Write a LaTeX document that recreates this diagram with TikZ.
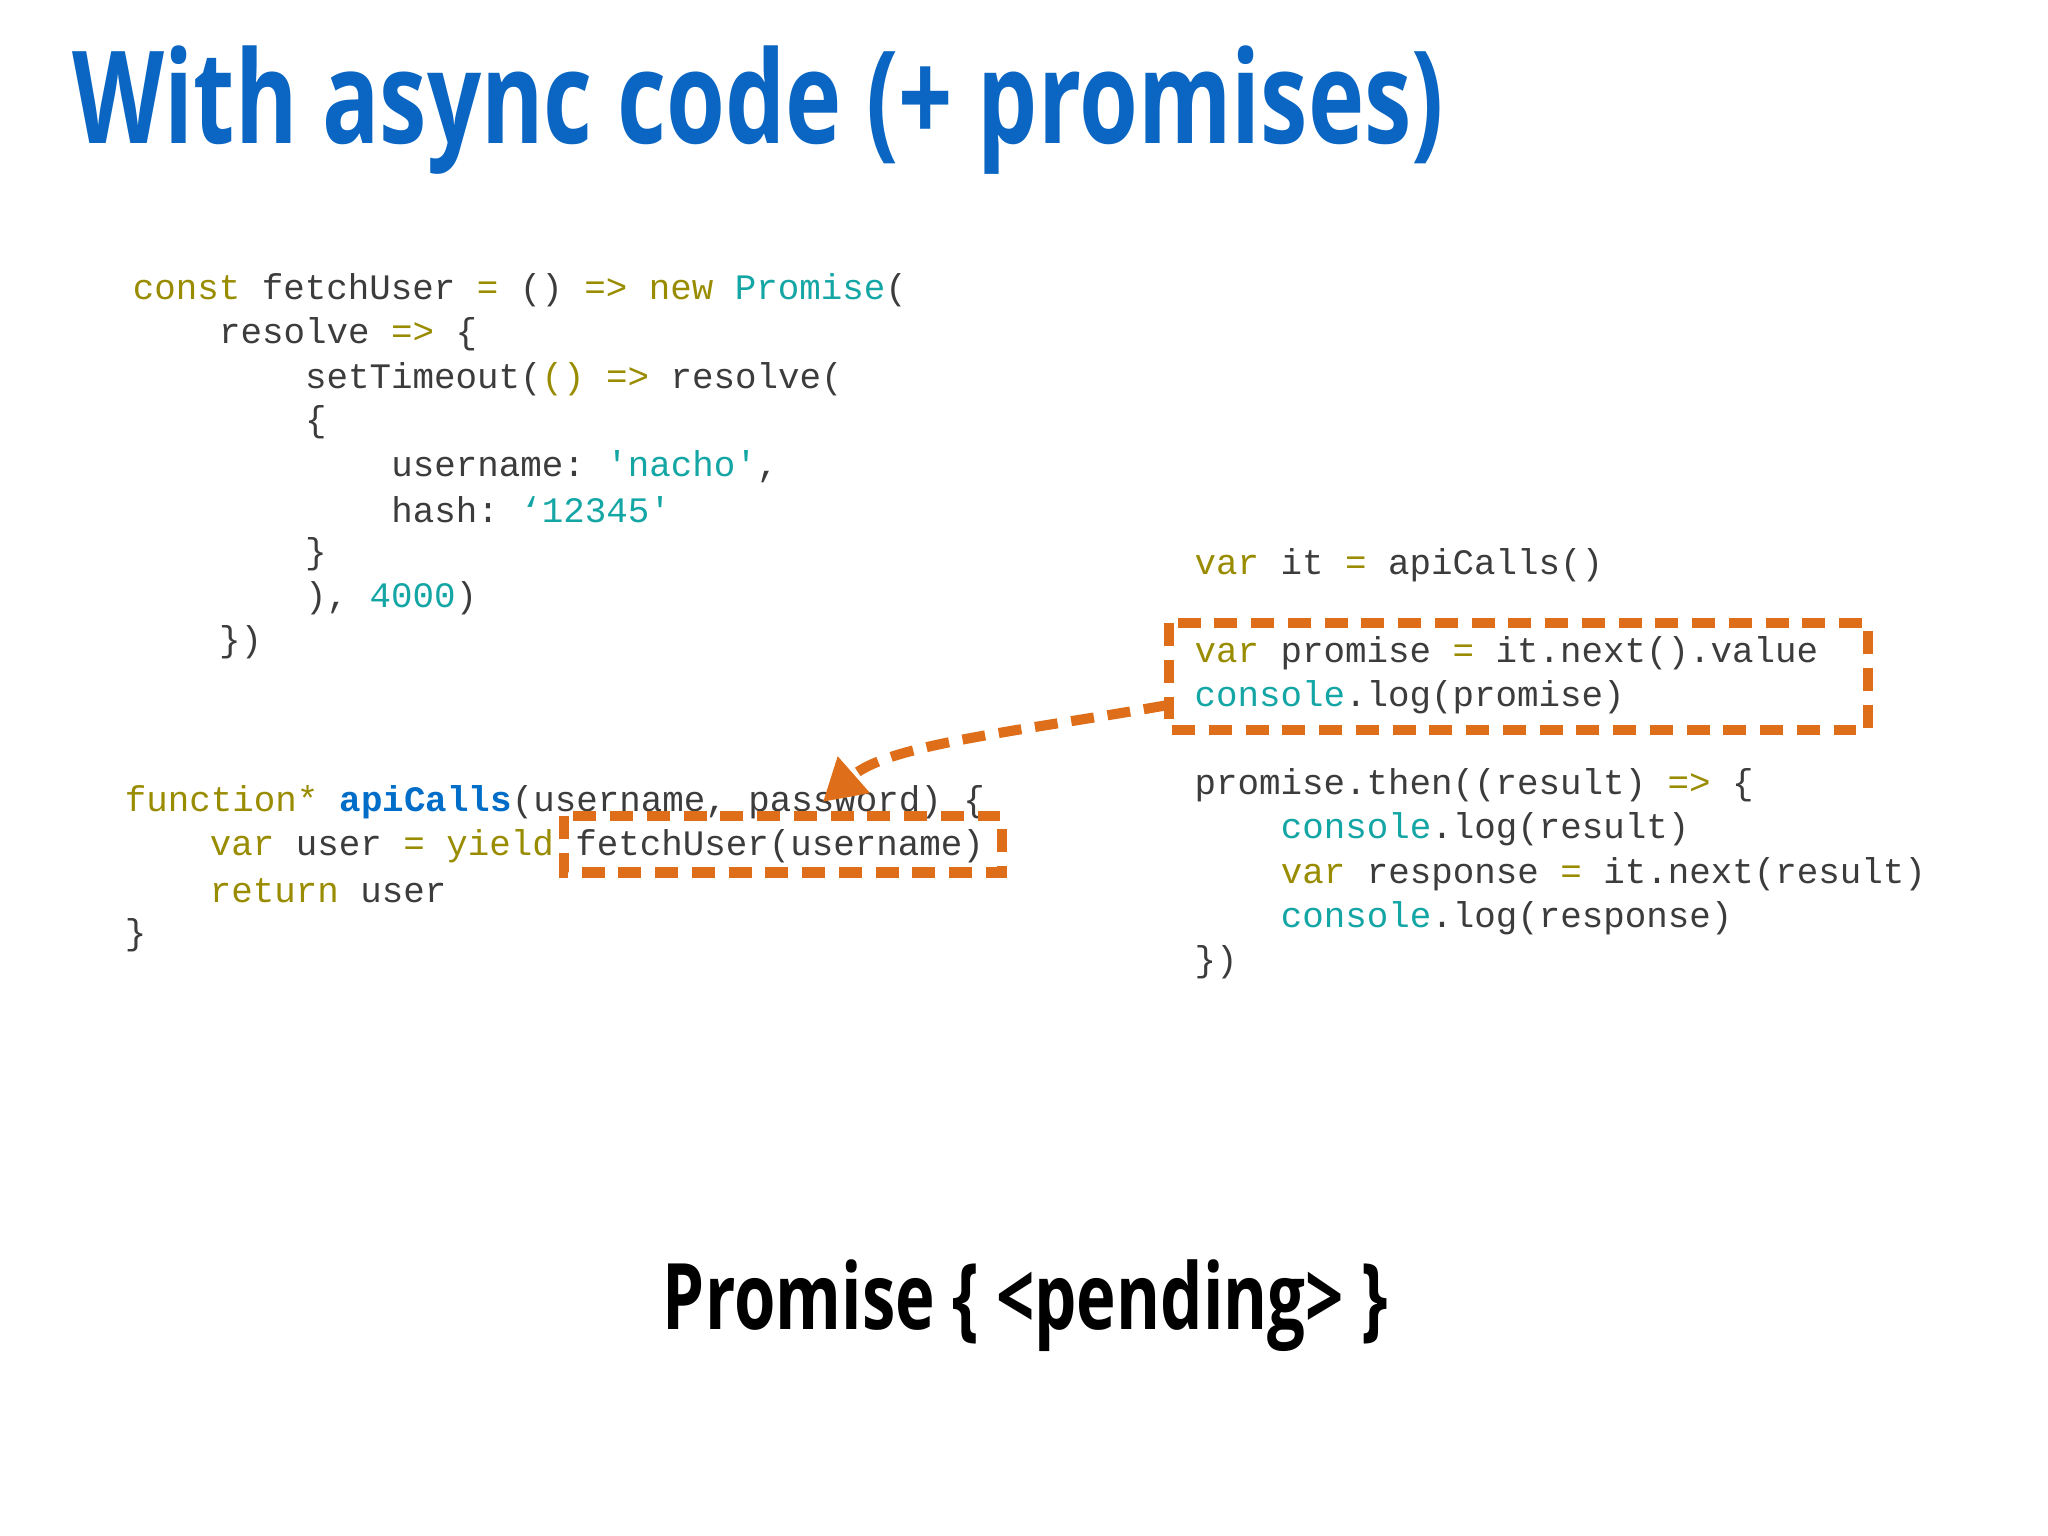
\documentclass[tikz,border=0pt]{standalone}
\usepackage{fontspec}
\setmainfont{Open Sans}
\setmonofont{Liberation Mono}
\usetikzlibrary{arrows.meta}
\definecolor{kw}{RGB}{153,140,0}
\definecolor{cy}{RGB}{20,165,165}
\definecolor{fn}{RGB}{0,110,200}
\definecolor{tx}{RGB}{60,60,60}
\definecolor{tt}{RGB}{10,102,194}
\definecolor{og}{RGB}{222,110,25}
\newcommand{\K}[1]{\textcolor{kw}{#1}}
\newcommand{\C}[1]{\textcolor{cy}{#1}}
\newcommand{\F}[1]{\textcolor{fn}{\bfseries #1}}
\tikzset{code/.style={anchor=west,inner sep=0pt,text=tx,font=\fontsize{7.8}{9}\selectfont\ttfamily},
 hl/.style={draw=og,line width=2.2pt,dash pattern=on 5pt off 3pt}}
\begin{document}
\begin{tikzpicture}[x=0.01cm,y=-0.01cm]
\useasboundingbox (0,0) rectangle (1568,1176);
\fill[white] (0,0) rectangle (1568,1176);
\node[anchor=west,inner sep=0pt,text=tt] (title) at (55,84) {\scalebox{0.74}[1]{\fontsize{28}{32}\selectfont\bfseries With async code (+ promises)}};
% left code
\node[code] (l1) at (101,222) {\K{const} fetchUser \K{=} () \K{=>} \K{new} \C{Promise}(};
\node[code] (l2) at (167,256) {resolve \K{=>} \{};
\node[code] (l3) at (233,290) {setTimeout(\K{()} \K{=>} resolve(};
\node[code] (l4) at (233,323) {\{};
\node[code] (l5) at (299,357) {username: \C{'nacho'},};
\node[code] (l6) at (299,390) {hash: \C{‘12345'}};
\node[code] (l7) at (233,424) {\}};
\node[code] (l8) at (233,458) {), \C{4000})};
\node[code] (l9) at (167,492) {\})};
\node[code] (g1) at (95,614) {\K{function*} \F{apiCalls}(username, password) \{};
\node[code] (g2) at (160,648) {\K{var} user \K{=} \K{yield} fetchUser(username)};
\node[code] (g3) at (160,682) {\K{return} user};
\node[code] (g4) at (95,716) {\}};
% right code
\node[code] (r1) at (914,433) {\K{var} it \K{=} apiCalls()};
\node[code] (r2) at (914,500) {\K{var} promise \K{=} it.next().value};
\node[code] (r3) at (914,534) {\C{console}.log(promise)};
\node[code] (r4) at (914,601) {promise.then((result) \K{=>} \{};
\node[code] (r5) at (980,635) {\C{console}.log(result)};
\node[code] (r6) at (980,669) {\K{var} response \K{=} it.next(result)};
\node[code] (r7) at (980,703) {\C{console}.log(response)};
\node[code] (r8) at (914,737) {\})};
% boxes
\draw[hl] (895,477) rectangle (1430,559);
\draw[hl] (432,625) rectangle (767,668);
\coordinate (bs) at (893,540);
\coordinate (be) at (630,614);
\draw[og,line width=2.2pt,dash pattern=on 5pt off 3pt,-{Triangle[length=9pt,width=10pt]}] (bs) .. controls (780,560) and (680,570) .. (be);
\node[inner sep=0pt,text=black] (res) at (785,1000) {\scalebox{0.73}[1]{\fontsize{20}{24}\selectfont\bfseries Promise \{ <pending> \}}};
\end{tikzpicture}
\end{document}
